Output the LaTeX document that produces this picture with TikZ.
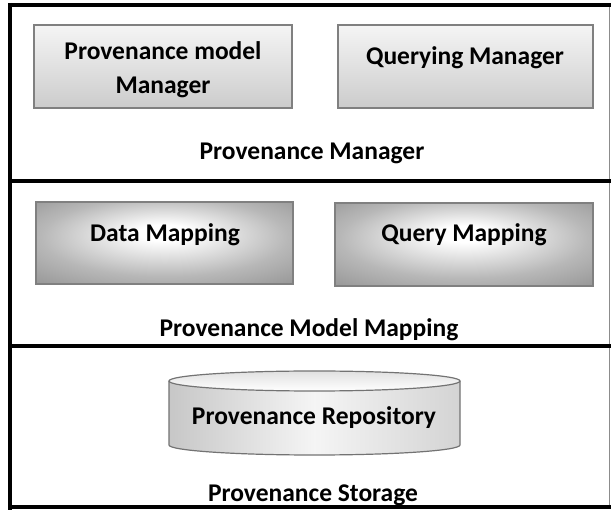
\documentclass[tikz,border=0pt]{standalone}
\usepackage{fontspec}
\setmainfont{Carlito}
% soft glow with its bright spot a little above the middle
\pgfdeclareradialshading{boxglow}{\pgfpoint{0bp}{7bp}}{%
  color(0bp)=(white); color(5bp)=(white); color(24bp)=(black!28);
  color(38bp)=(black!42); color(50bp)=(black!42)}
\begin{document}
\begin{tikzpicture}[x=1pt,y=-1pt,
  lbl/.style={font=\bfseries\fontsize{25.5}{34}\selectfont, inner sep=0pt, align=center},
  sep/.style={line width=4pt, black},
  mgrbox/.style={draw=black!50, line width=1.5pt, top color=black!4, bottom color=black!20},
  mapbox/.style={draw=black!50, line width=1.5pt, shading=boxglow},
  cylbody/.style={left color=black!22, right color=black!17, middle color=black!4},
  cylline/.style={draw=black!55, line width=1.2pt}]
\useasboundingbox (0,0) rectangle (611,510);
\fill[white] (0,0) rectangle (611,510);

% Provenance Manager layer
\shade[mgrbox] (34,25) rectangle (292,108);
\shade[mgrbox] (338,25) rectangle (593,108);
\node[lbl] (pmm) at (163,70) {Provenance model\\Manager};
\node[lbl] (qm) at (465,58) {Querying Manager};
\node[lbl] (lblmgr) at (312,153) {Provenance Manager};

% Model mapping layer
\shade[mapbox] (36,202) rectangle (293,284);
\shade[mapbox] (335,203) rectangle (593,286);
\node[lbl] (dm) at (165,235) {Data Mapping};
\node[lbl] (qmap) at (464,235) {Query Mapping};
\node[lbl] (lblmap) at (309,330) {Provenance Model Mapping};

% Storage layer: repository cylinder
\shade[cylbody] (169,381) rectangle (460,445);
\shade[cylbody] (314.5,445) ellipse[x radius=145.5pt, y radius=10pt];
\draw[cylline] (169,381) -- (169,445)
  arc[start angle=180, end angle=360, x radius=145.5pt, y radius=10pt] -- (460,381);
\shade[top color=black!12, bottom color=white, cylline] (314.5,381) ellipse[x radius=145.5pt, y radius=10pt];
\node[lbl] (repo) at (314,418) {Provenance Repository};
\node[lbl] (lblstore) at (313,495) {Provenance Storage};

% Frame and layer dividers
\draw[black!45, line width=1pt] (609,5) -- (609,508);
\draw[sep] (8,5) -- (611,5);
\draw[sep] (8,181) -- (611,181);
\draw[sep] (8,346) -- (611,346);
\draw[sep] (8,507.5) -- (611,507.5);
\draw[sep] (10,3) -- (10,510);
\end{tikzpicture}
\end{document}
